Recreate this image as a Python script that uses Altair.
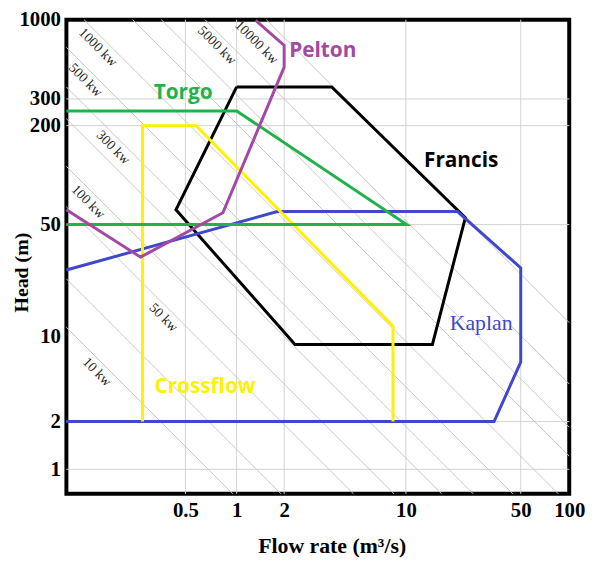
import altair as alt
import pandas as pd

# ---------------- data ----------------
x_tick_values = [0.5, 1, 2, 10, 50, 100]
y_tick_values = [1, 2, 10, 50, 200, 300, 1000]
x_grid_values = [0.5, 1, 2, 10, 50]
y_grid_values = [1, 2, 50, 200, 300]

# the drawn axes are not exactly logarithmic: calibration points of each axis
x_scale_domain = [0.1, 1, 2, 10, 50, 100]
x_scale_range = [0, 172, 220, 343, 459, 508]
y_scale_domain = [0.7, 2, 10, 50, 200, 1000]
y_scale_range = [479, 406, 320, 207, 107, 0]

turbine_names = ["Francis", "Kaplan", "Crossflow", "Torgo", "Pelton"]
turbine_colors = ["#000000", "#3F48CC", "#FFF200", "#22B14C", "#A349A4"]

francis_q = [1.0, 3.75, 23.0, 14.5, 2.31, 0.44, 1.0]
francis_h = [360, 360, 55, 8.6, 8.6, 61.5, 360]
kaplan_q = [0.1, 1.81, 20.6, 50, 50, 34.4, 0.1]
kaplan_h = [26, 60, 60, 26.8, 6.15, 2, 2]
crossflow_q = [0.28, 0.28, 0.578, 8.43, 8.43]
crossflow_h = [2, 200, 200, 11.6, 2]
torgo_q = [0.1, 1.0, 10.1, 0.1]
torgo_h = [250, 250, 50, 50]
pelton_q = [1.32, 2.0, 2.0, 0.83, 0.273, 0.1]
pelton_h = [990, 676, 486, 59, 31.3, 61.5]

label_names = ["Pelton", "Torgo", "Francis", "Crossflow", "Kaplan"]
label_q = [3.33, 0.485, 21.7, 0.652, 28.7]
label_h = [618, 328, 121, 3.85, 12.1]

# constant-power guide lines (start / end points on the frame)
power_ids = ["10", "20", "50", "100", "200", "300", "500", "1000", "2000", "3000", "5000", "10000"]
power_start_q = [0.1, 0.1, 0.1, 0.1, 0.1, 0.1, 0.1, 0.127, 0.245, 0.361, 0.652, 1.54]
power_start_h = [11.4, 22.9, 64.1, 113, 222, 360, 656, 1000, 1000, 1000, 1000, 1000]
power_end_q = [0.948, 1.91, 5.0, 8.55, 16.5, 25.7, 44.7, 85.5, 100, 100, 100, 100]
power_end_h = [0.7, 0.7, 0.7, 0.7, 0.7, 0.7, 0.7, 0.7, 1.21, 1.84, 4.07, 12.2]

power_label_text = ["10 kw", "50 kw", "100 kw", "300 kw", "500 kw", "1000 kw", "5000 kw", "10000 kw"]
power_label_q = [0.151, 0.371, 0.134, 0.188, 0.129, 0.153, 0.765, 1.335]
power_label_h = [5.1, 13.1, 68.7, 147, 399, 656, 676, 707]

# ---------------- tables ----------------
rows = []
for name, qs, hs in [("Francis", francis_q, francis_h), ("Kaplan", kaplan_q, kaplan_h),
                     ("Crossflow", crossflow_q, crossflow_h), ("Torgo", torgo_q, torgo_h),
                     ("Pelton", pelton_q, pelton_h)]:
    for i, (q, h) in enumerate(zip(qs, hs)):
        rows.append({"turbine": name, "seq": i, "Q": q, "H": h})
env_df = pd.DataFrame(rows)

prow = []
for pid, q0, h0, q1, h1 in zip(power_ids, power_start_q, power_start_h, power_end_q, power_end_h):
    prow.append({"p": pid, "seq": 0, "Q": q0, "H": h0})
    prow.append({"p": pid, "seq": 1, "Q": q1, "H": h1})
pow_df = pd.DataFrame(prow)

plab_df = pd.DataFrame({"t": power_label_text, "Q": power_label_q, "H": power_label_h})
lab_df = pd.DataFrame({"turbine": label_names, "Q": label_q, "H": label_h})
sans_df = lab_df[lab_df.turbine != "Kaplan"]
serif_df = lab_df[lab_df.turbine == "Kaplan"]
xg_df = pd.DataFrame({"Q": x_grid_values})
yg_df = pd.DataFrame({"H": y_grid_values})

# ---------------- scales / axes ----------------
xs = alt.Scale(type="log", domain=x_scale_domain, range=x_scale_range, nice=False)
ys = alt.Scale(type="log", domain=y_scale_domain, range=y_scale_range, nice=False)
serif = "Liberation Serif"
x_axis = alt.Axis(values=x_tick_values, format="~g", title="Flow rate (m³/s)", grid=False,
                  ticks=False, domain=False, labelFlush=False, labelOverlap=False,
                  labelFont=serif, labelFontWeight="bold", labelFontSize=21, labelColor="black",
                  labelPadding=6, titleFont=serif, titleFontWeight="bold", titleFontSize=22,
                  titleColor="black", titleX=268, titleY=52, titleBaseline="middle")
y_axis = alt.Axis(values=y_tick_values, format="~g", title="Head (m)", grid=False,
                  ticks=False, domain=False, labelFlush=False, labelOverlap=False,
                  labelFont=serif, labelFontWeight="bold", labelFontSize=21, labelColor="black",
                  labelPadding=6, titleFont=serif, titleFontWeight="bold", titleFontSize=20,
                  titleColor="black", titleX=-45, titleY=255, titleBaseline="middle")
X = alt.X("Q:Q", scale=xs, axis=x_axis)
Y = alt.Y("H:Q", scale=ys, axis=y_axis)
col = alt.Color("turbine:N", scale=alt.Scale(domain=turbine_names, range=turbine_colors), legend=None)

vgrid = alt.Chart(xg_df).mark_rule(color="#d2d2d2", strokeWidth=1).encode(x=X)
hgrid = alt.Chart(yg_df).mark_rule(color="#d2d2d2", strokeWidth=1).encode(y=Y)
plines = alt.Chart(pow_df).mark_line(color="#cdc8bf", strokeWidth=1).encode(
    x=X, y=Y, detail="p:N", order="seq:Q")
plabels = alt.Chart(plab_df).mark_text(font=serif, fontSize=14, angle=45, color="#222222").encode(
    x=X, y=Y, text="t:N")
env = alt.Chart(env_df).mark_line(strokeWidth=3).encode(
    x=X, y=Y, color=col, order="seq:Q")
tl_sans = alt.Chart(sans_df).mark_text(font="Open Sans", fontSize=21, fontWeight="bold").encode(
    x=X, y=Y, text="turbine:N", color=col)
tl_serif = alt.Chart(serif_df).mark_text(font=serif, fontSize=22).encode(
    x=X, y=Y, text="turbine:N", color=col)

chart = alt.layer(vgrid, hgrid, plines, plabels, env, tl_sans, tl_serif).properties(
    width=508, height=479,
    background="white",
    autosize=alt.AutoSizeParams(type="none"),
    padding={"left": 59, "top": 9, "right": 22, "bottom": 62},
).configure_view(stroke="black", strokeWidth=4)

chart.save("out.html", embed_options={"renderer": "svg", "actions": False})
